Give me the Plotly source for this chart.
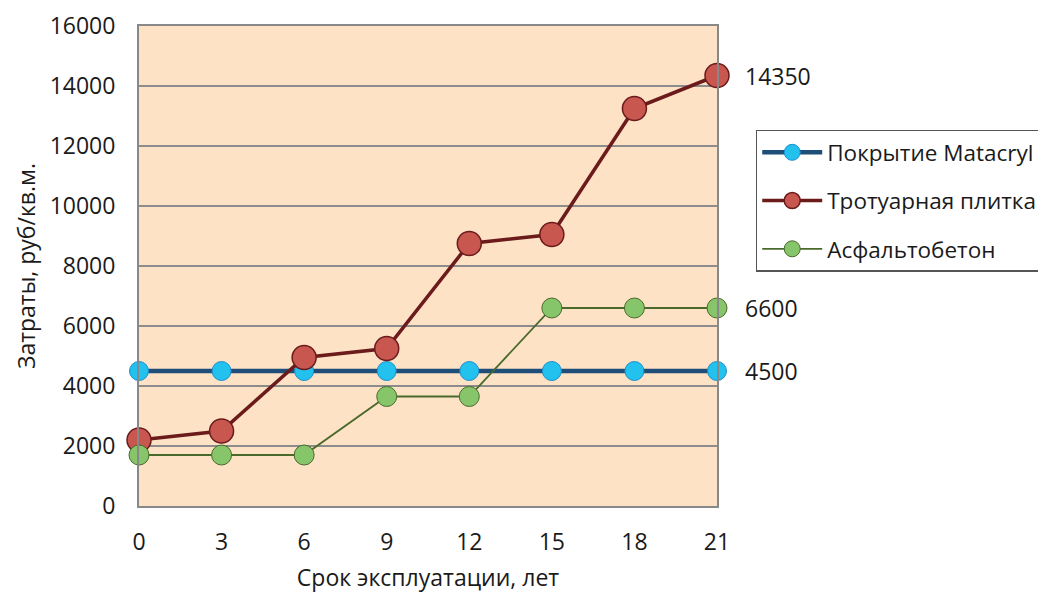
import plotly.graph_objects as go

years = [0, 3, 6, 9, 12, 15, 18, 21]
matacryl = [4500, 4500, 4500, 4500, 4500, 4500, 4500, 4500]
tile = [2200, 2500, 4950, 5250, 8750, 9050, 13250, 14350]
asphalt = [1700, 1700, 1700, 3650, 3650, 6600, 6600, 6600]
names = ["Покрытие Matacryl", "Тротуарная плитка", "Асфальтобетон"]
y_ticks = list(range(0, 16001, 2000))
y_ticktext = [str(v) for v in y_ticks]
x_title = "Срок эксплуатации, лет"
y_title = "Затраты, руб/кв.м."

FONT = "Open Sans"
FS = 23

fig = go.Figure()
fig.add_trace(go.Scatter(
    x=years, y=matacryl, name=names[0], legendgroup="a", mode="lines+markers",
    line=dict(color="#1F4E79", width=4.5),
    marker=dict(size=19, color="#22C1EE", line=dict(color="#1E8FD0", width=1)),
    cliponaxis=False))
fig.add_trace(go.Scatter(
    x=years, y=tile, name=names[1], legendgroup="b", mode="lines+markers",
    line=dict(color="#6B1B1B", width=3.5),
    marker=dict(size=24, color="#C8574F", line=dict(color="#6B1B1B", width=1.5)),
    cliponaxis=False))
fig.add_trace(go.Scatter(
    x=years, y=asphalt, name=names[2], legendgroup="c", mode="lines+markers",
    line=dict(color="#4A6A2C", width=1.8),
    marker=dict(size=20, color="#86C56A", line=dict(color="#4A6A2C", width=1)),
    cliponaxis=False))

for series in (tile, asphalt, matacryl):
    fig.add_annotation(x=years[-1], y=series[-1], text=str(series[-1]),
                       xref="x", yref="y", showarrow=False, xanchor="left",
                       xshift=26, font=dict(family=FONT, size=FS, color="#1a1a1a"))

fig.update_layout(
    width=1046, height=593,
    margin=dict(l=131, r=337, t=18, b=95, autoexpand=False),
    paper_bgcolor="white", plot_bgcolor="#FDE2C6",
    font=dict(family=FONT, size=FS, color="#1a1a1a"),
    showlegend=True,
    legend=dict(x=1.067, y=0.784, xanchor="left", yanchor="top",
                bgcolor="white", bordercolor="#555555", borderwidth=1.5,
                font=dict(family=FONT, size=22.5, color="#1a1a1a"),
                traceorder="grouped", tracegroupgap=16, itemwidth=60),
    xaxis=dict(range=[0, 21], tickvals=years, ticktext=[str(v) for v in years],
               showgrid=False, zeroline=False, showline=True, linecolor="#888888",
               linewidth=2, mirror=True, ticks="", ticklabelstandoff=14,
               automargin=False,
               title=dict(text=x_title, standoff=14, font=dict(size=FS)),
               tickfont=dict(size=FS)),
    yaxis=dict(range=[0, 16000], tickvals=y_ticks, ticktext=y_ticktext,
               showgrid=True, gridcolor="#8C8C8C", gridwidth=1.5, zeroline=False,
               showline=True, linecolor="#888888", linewidth=2, mirror=True,
               ticks="", ticklabelstandoff=17, automargin=False,
               title=dict(text=y_title, standoff=8, font=dict(size=FS)),
               tickfont=dict(size=FS)),
)

fig.write_html("out.html")
